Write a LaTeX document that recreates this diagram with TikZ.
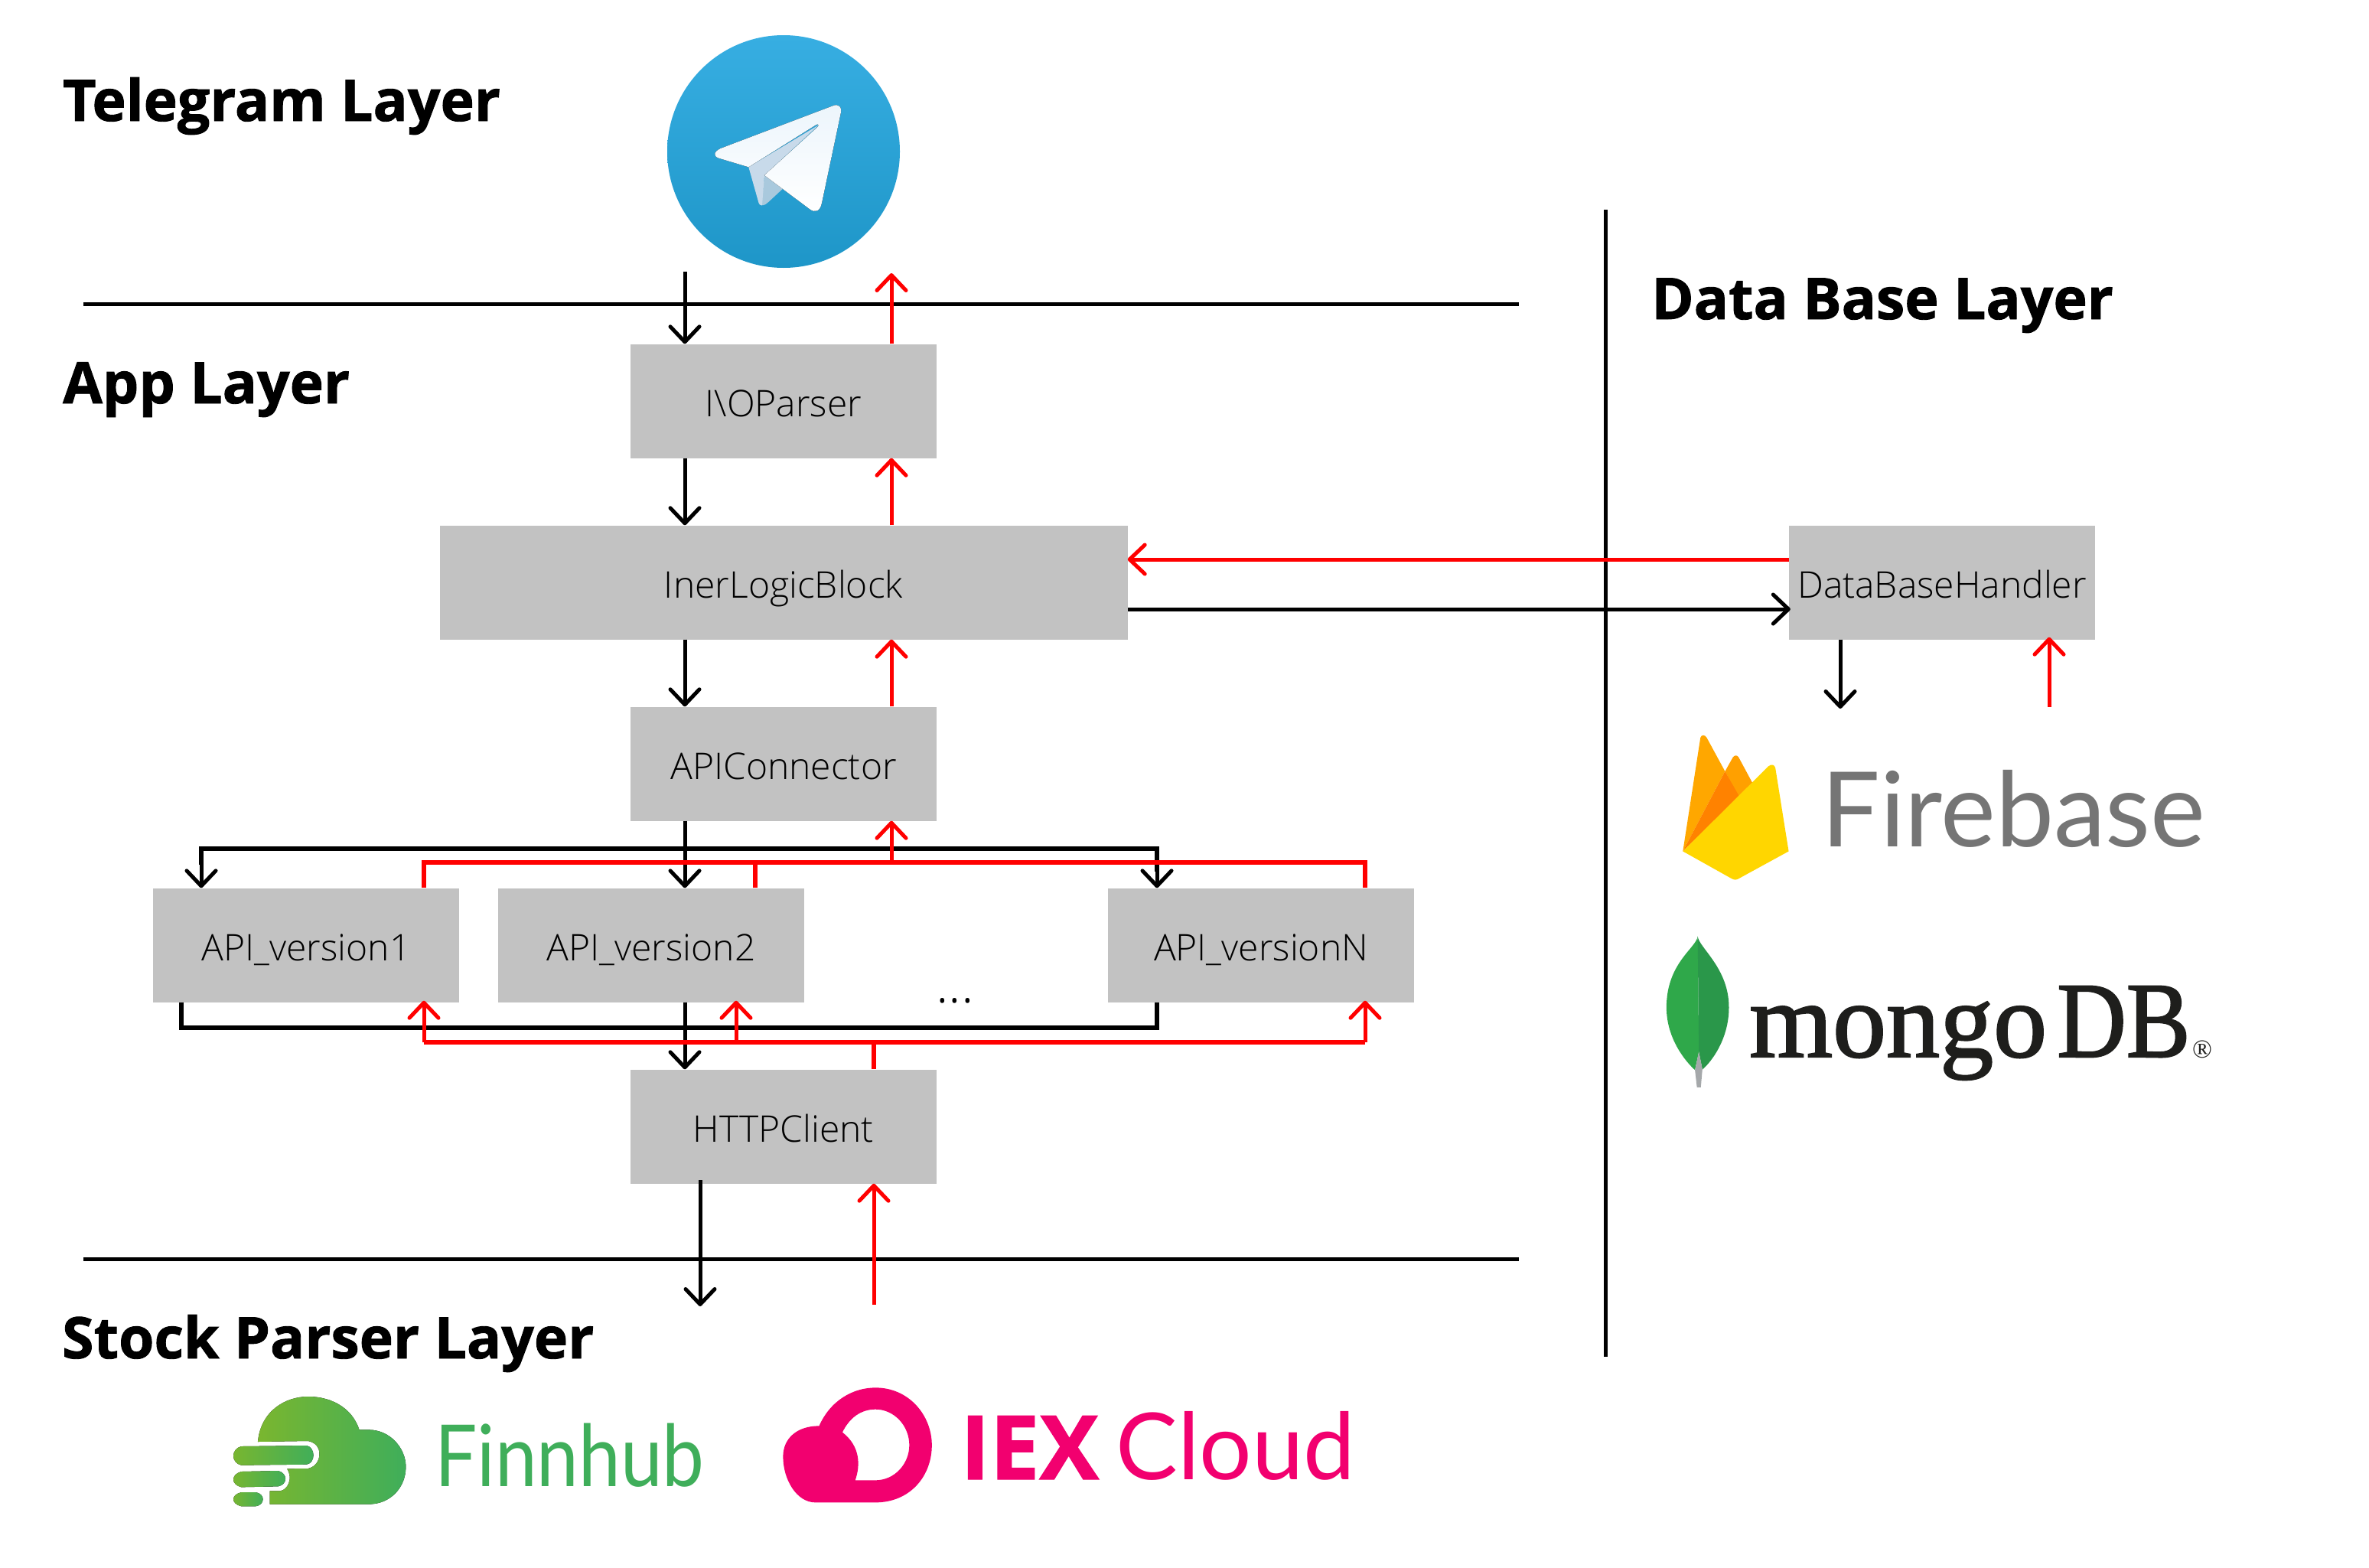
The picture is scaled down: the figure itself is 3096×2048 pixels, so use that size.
\documentclass[tikz,border=0pt]{standalone}
\usepackage{fontspec}
\usetikzlibrary{arrows.meta,calc}
\setmainfont{Open Sans}
\newfontfamily\titlefont{Open Sans}[UprightFont=* Bold,UprightFeatures={FakeBold=1.2}]
\newfontfamily\lightfont{Open Sans Light}
\newfontfamily\latofont{Lato}
\newfontfamily\serifont{Liberation Serif}
\newfontfamily\mongofont{Liberation Serif}[FakeBold=1.6]
\definecolor{boxgrey}{HTML}{C2C2C2}
\definecolor{iexpink}{HTML}{F2006F}
\definecolor{fhgreen}{HTML}{3FAE5A}
\definecolor{fhlime}{HTML}{7AB62F}
\definecolor{tgtop}{HTML}{37AEE2}
\definecolor{tgbot}{HTML}{1E96C8}
\definecolor{fbgrey}{HTML}{757575}
\definecolor{mdark}{HTML}{1E1E1C}
\tikzset{
  hrule/.style={line width=5pt,black},
  boxnode/.style={fill=boxgrey,draw=none,inner sep=0pt,minimum height=149pt,text=black,
     text height=50pt,text depth=10pt,
     font=\lightfont\fontsize{48}{56}\selectfont},
  smallbox/.style={boxnode,minimum width=400pt},
  title/.style={anchor=base west,inner sep=0pt,font=\titlefont\fontsize{75}{86}\selectfont},
  blk/.style={line width=5pt,black,-{Straight Barb[length=20pt,width=38pt,round]}},
  redl/.style={line width=5pt,red,-{Straight Barb[length=20pt,width=38pt,round]}},
  blkbus/.style={line width=5.5pt,black},
  redbus/.style={line width=5.5pt,red},
  logotext/.style={anchor=base west,inner sep=0pt},
}
\begin{document}
\begin{tikzpicture}[x=1pt,y=-1pt]
\useasboundingbox (0,0) rectangle (3096,2048);
% columns
\coordinate (xb) at (895,0);
\coordinate (xr) at (1165,0);
% rules
\coordinate (t1) at (109,397); \coordinate (t2) at (1985,397);
\coordinate (b1) at (109,1645); \coordinate (b2) at (1985,1645);
\coordinate (v1) at (2098,274); \coordinate (v2) at (2098,1773);
% titles
\node[title] (ttg) at (82,158) {Telegram Layer};
\node[title] (tapp) at (82,527) {App Layer};
\node[title] (tdb) at (2158,417) {Data Base Layer};
\node[title] (tst) at (81,1775) {Stock Parser Layer};
% boxes
\node[smallbox] (iop) at (1024,524) {I\textbackslash OParser};
\node[boxnode,minimum width=899pt] (ilb) at (1024,761) {InerLogicBlock};
\node[smallbox] (apic) at (1024,998) {APIConnector};
\node[smallbox] (a1) at (400,1235) {API\_version1};
\node[smallbox] (a2) at (851,1235) {API\_version2};
\node[smallbox] (an) at (1648,1235) {API\_versionN};
\node[smallbox] (http) at (1024,1472) {HTTPClient};
\node[smallbox] (dbh) at (2538,761) {DataBaseHandler};
\node[font=\lightfont\fontsize{70}{76}\selectfont,inner sep=0pt] (dots) at (1248,1308) {...};
% Telegram logo
\node[circle,minimum size=304pt,inner sep=0pt,draw=none,top color=tgtop,bottom color=tgbot] (tgc) at (1024,198) {};
\coordinate (tgin) at (895,355);
\coordinate (tgout) at (1165,357);
\begin{scope}[shift={(840,20)},scale=0.33333]
  \fill[color={rgb,255:red,169;green,201;blue,221}] (477,627) -- (466,745) .. controls (480,745) and (485,738) .. (495,730) -- (552,677) -- cycle;
  \fill[color={rgb,255:red,200;green,218;blue,234}] (415,595) -- (690,430) -- (477,627) -- (468,745) .. controls (458,745) and (456,740) .. (453,730) -- cycle;
  \fill[top color={rgb,255:red,236;green,245;blue,252},bottom color=white]
     (305,522) -- (745,355) .. controls (765,345) and (783,358) .. (776,385)
     -- (702,735) .. controls (695,770) and (675,775) .. (655,760)
     -- (477,627) -- (685,438) .. controls (695,428) and (685,424) .. (675,432)
     -- (415,595) -- (298,560) .. controls (275,552) and (278,535) .. (305,522) -- cycle;
\end{scope}
% rules drawn
\draw[hrule] (t1) -- (t2);
\draw[hrule] (b1) -- (b2);
\draw[hrule] (v1) -- (v2);
% main column connectors
\draw[blk] (tgin) -- (iop.north -| tgin);
\draw[redl] (iop.north -| tgout) -- (tgout);
\draw[blk] (iop.south -| xb) -- (ilb.north -| xb);
\draw[redl] (ilb.north -| xr) -- (iop.south -| xr);
\draw[blk] (ilb.south -| xb) -- (apic.north -| xb);
\draw[redl] (apic.north -| xr) -- (ilb.south -| xr);
% fan out (black)
\coordinate (bt) at (0,1109);
\coordinate (a1in) at (263,0); \coordinate (anin) at (1512,0);
\draw[blkbus] (a1.north -| a1in) ++(0,-30) |- (bt -| anin) -- ++(0,30);
\draw[blk] (bt -| a1in) -- (a1.north -| a1in);
\draw[blk] (bt -| anin) -- (an.north -| anin);
\draw[blk] (apic.south -| xb) -- (a2.north -| xb);
% fan in (red)
\coordinate (rt) at (0,1127);
\coordinate (a1r) at (554,0); \coordinate (a2r) at (987,0); \coordinate (anr) at (1784,0);
\draw[redbus,line join=miter] (a1.north -| a1r) |- (rt -| anr) -- (an.north -| anr);
\draw[redbus] (a2.north -| a2r) -- (rt -| a2r);
\draw[redl] (rt -| xr) -- (apic.south -| xr);
% collect (black)
\coordinate (bb) at (0,1343);
\coordinate (a1o) at (237,0);
\draw[blkbus] (a1.south -| a1o) |- (bb -| anin) -- (an.south -| anin);
\draw[blk] (a2.south -| xb) -- (http.north -| xb);
% distribute (red)
\coordinate (rb) at (0,1362);
\coordinate (a2d) at (962,0); \coordinate (hr) at (1142,0);
\draw[redbus] (rb -| a1r) -- (rb -| anr);
\draw[redl] (rb -| a1r) -- ($(a1.south -| a1r)+(0,-2)$);
\draw[redl] (rb -| a2d) -- ($(a2.south -| a2d)+(0,-2)$);
\draw[redl] (rb -| anr) -- ($(an.south -| anr)+(0,-2)$);
\draw[redbus] (http.north -| hr) -- (rb -| hr);
% http bottom
\coordinate (ho) at (915,1542); \coordinate (hoe) at (915,1707);
\coordinate (hi) at (1142,1705);
\draw[blk] (ho) -- (hoe);
\draw[redl] (hi) -- (http.south -| hi);
% data base links
\coordinate (yr) at (0,731); \coordinate (yb) at (0,796);
\draw[redl] (dbh.west |- yr) -- (ilb.east |- yr);
\draw[blk] (ilb.east |- yb) -- ($(dbh.west |- yb)+(2,0)$);
\coordinate (dbo) at (2405,926); \coordinate (dbi) at (2678,924);
\draw[blk] (dbh.south -| dbo) -- (dbo);
\draw[redl] (dbi) -- ($(dbh.south -| dbi)+(0,-3)$);
% Firebase logo
\begin{scope}[shift={(2160,940)},xscale=0.5102,yscale=0.3316]
  \fill[color={rgb,255:red,255;green,160;blue,0}] (185,205) -- (205,150) .. controls (210,140) and (216,140) .. (220,150) -- (255,250) -- (220,305) -- cycle;
  \fill[color={rgb,255:red,255;green,167;blue,0}] (77,520) -- (122,72) .. controls (124,60) and (134,60) .. (138,72) -- (185,205) -- cycle;
  \fill[color={rgb,255:red,255;green,130;blue,0}] (77,520) -- (185,205) -- (222,305) -- cycle;
  \fill[color={rgb,255:red,255;green,214;blue,0}] (77,520) -- (296,185) .. controls (304,175) and (312,178) .. (314,192) -- (348,520) -- (222,626) .. controls (214,634) and (208,634) .. (200,626) -- cycle;
\end{scope}
\node[logotext,text=fbgrey,font=\latofont\fontsize{136}{150}\selectfont] (fb) at (2380,1106) {Firebase};
% MongoDB logo
\begin{scope}[shift={(2160,940)},xscale=0.5102,yscale=0.3316]
  \fill[color={rgb,255:red,47;green,168;blue,74}] (115,855) .. controls (112,900) and (35,960) .. (35,1135) .. controls (35,1260) and (85,1350) .. (108,1382) -- (118,1310) -- cycle;
  \fill[color={rgb,255:red,42;green,151;blue,74}] (115,855) .. controls (118,900) and (195,980) .. (195,1135) .. controls (195,1260) and (150,1350) .. (127,1380) -- (118,1310) -- cycle;
  \fill[color={rgb,255:red,165;green,168;blue,170}] (108,1382) -- (118,1310) -- (127,1380) -- (123,1450) -- (113,1450) -- cycle;
\end{scope}
\node[logotext,text=mdark,font=\mongofont\fontsize{140}{150}\selectfont] (mg) at (2286,1381) {mongo};
\node[logotext,text=mdark,font=\mongofont\fontsize{141}{150}\selectfont] (db) at (2688,1381) {\scalebox{0.89}[1]{DB}};
\node[text=mdark,inner sep=0pt,font=\serifont\fontsize{34}{36}\selectfont] (rg) at (2878,1371) {®};
% Finnhub logo
\begin{scope}[shift={(280,1800)},xscale=0.982,yscale=0.33333]
  \fill[left color=fhlime,right color=fhgreen] (58,252) .. controls (62,130) and (95,75) .. (125,75) .. controls (160,75) and (185,130) .. (193,205) -- (205,205) .. controls (235,205) and (255,280) .. (255,350) .. controls (255,430) and (235,497) .. (205,497) -- (74,497) -- (74,445) -- (88,445) .. controls (98,440) and (105,395) .. (97,358) -- (125,357) .. controls (135,350) and (140,325) .. (140,300) .. controls (140,275) and (135,255) .. (125,249) -- cycle;
  \fill[left color=fhlime,right color=fhgreen] (36,270) -- (123,267) .. controls (135,275) and (135,335) .. (123,341) -- (36,344) .. controls (22,335) and (22,280) .. (36,270) -- cycle;
  \fill[left color=fhlime,right color=fhgreen] (36,369) -- (85,366) .. controls (98,375) and (98,420) .. (85,427) -- (36,430) .. controls (22,420) and (22,380) .. (36,369) -- cycle;
  \fill[left color=fhlime,right color=fhgreen] (36,450) -- (55,450) .. controls (68,455) and (68,500) .. (55,505) -- (36,505) .. controls (22,495) and (22,460) .. (36,450) -- cycle;
\end{scope}
\node[logotext,text=fhgreen,font=\latofont\fontsize{112}{130}\selectfont] (fh) at (568,1942) {\scalebox{0.875}[1]{Finnhub}};
% IEX Cloud logo
\begin{scope}[shift={(280,1800)},xscale=0.982,yscale=0.33333]
  \fill[iexpink,even odd rule] (757,310) .. controls (757,240) and (775,190) .. (805,190) .. controls (820,90) and (850,40) .. (880,40) .. controls (925,40) and (955,150) .. (955,265) .. controls (955,390) and (925,490) .. (880,490) -- (800,490) .. controls (775,490) and (757,400) .. (757,310) -- cycle
  (836,215) .. controls (845,160) and (860,125) .. (880,125) .. controls (905,125) and (925,190) .. (925,265) .. controls (925,340) and (905,403) .. (880,403) -- (853,403) .. controls (860,345) and (860,270) .. (836,215) -- cycle;
\end{scope}
\node[logotext,text=iexpink,font=\titlefont\fontsize{116}{130}\selectfont] (iex) at (1255,1933) {IEX};
\node[logotext,text=iexpink,font=\latofont\fontsize{121}{130}\selectfont] (cl) at (1458,1933) {Cloud};
\end{tikzpicture}
\end{document}
